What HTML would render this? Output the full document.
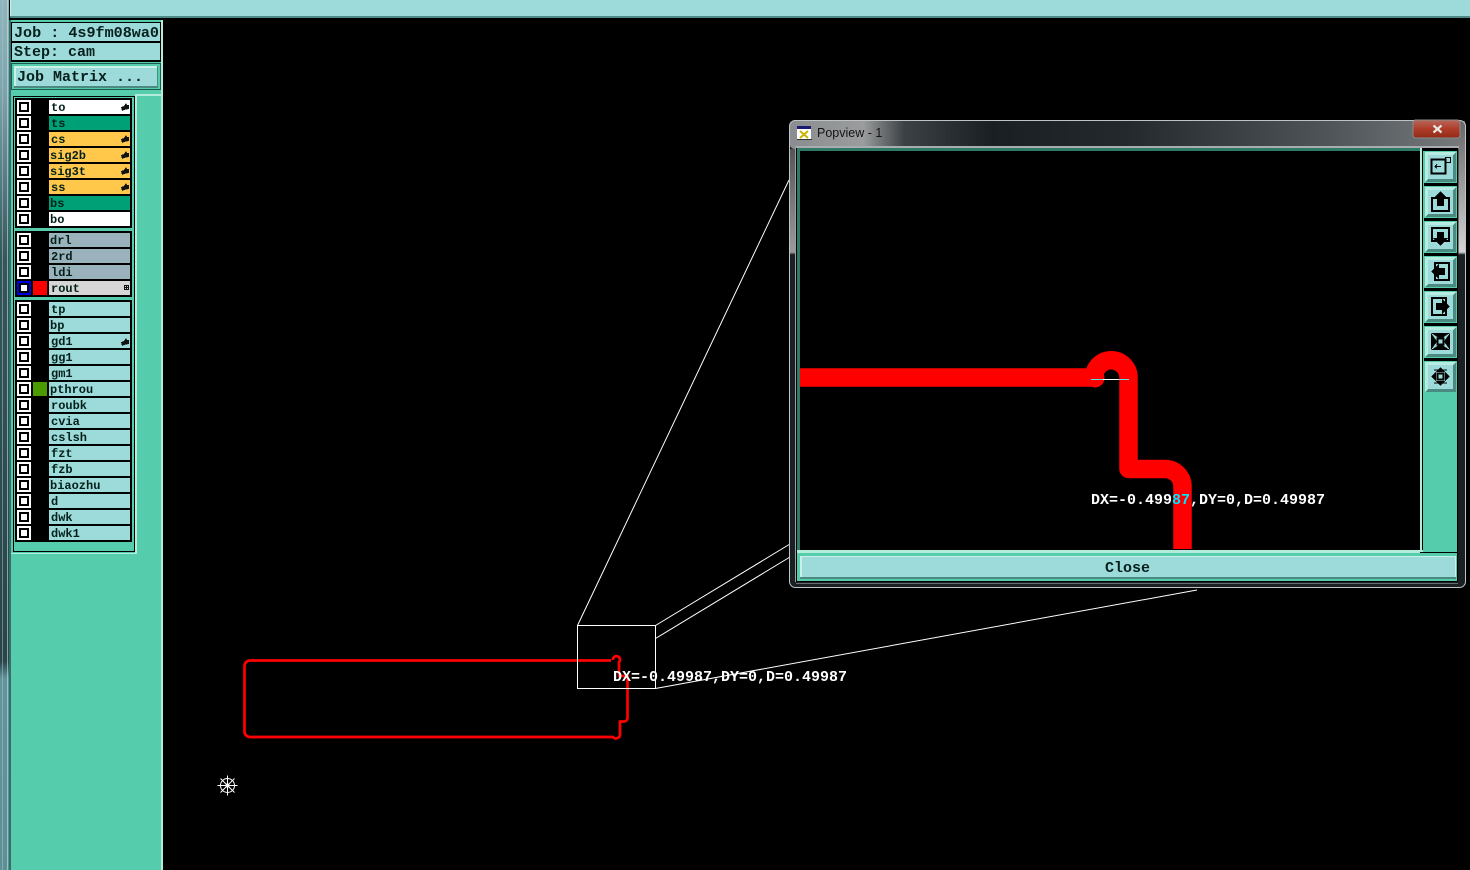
<!DOCTYPE html>
<html><head><meta charset="utf-8"><style>
html,body{margin:0;padding:0;background:#000;width:1470px;height:870px;overflow:hidden}
svg{display:block}
.l{font:bold 12px "Liberation Mono",monospace;fill:#03201a}
.h{font:bold 15px "Liberation Mono",monospace;fill:#06201c}
.m{font:bold 15px "Liberation Mono",monospace;fill:#fff}
</style></head><body>
<svg width="1470" height="870" viewBox="0 0 1470 870" xmlns="http://www.w3.org/2000/svg" shape-rendering="crispEdges">
<defs>
<linearGradient id="lf" x1="0" y1="0" x2="0" y2="1"><stop offset="0" stop-color="#8fb4bc"/><stop offset=".1" stop-color="#7fa6ae"/><stop offset=".3" stop-color="#33565a"/><stop offset=".76" stop-color="#2a4448"/><stop offset=".78" stop-color="#62949c"/><stop offset="1" stop-color="#5d8f96"/></linearGradient>
<linearGradient id="tb" x1="0" y1="0" x2="1" y2="0"><stop offset="0" stop-color="#8a8d8f"/><stop offset=".11" stop-color="#9a9c9d"/><stop offset=".17" stop-color="#3c4145"/><stop offset=".3" stop-color="#1a1f23"/><stop offset=".5" stop-color="#24292d"/><stop offset=".8" stop-color="#50555a"/><stop offset="1" stop-color="#777b7d"/></linearGradient>
<linearGradient id="fr" x1="0" y1="0" x2="0" y2="1"><stop offset="0" stop-color="#666"/><stop offset=".285" stop-color="#d4d4d4"/><stop offset=".291" stop-color="#1a1f24"/><stop offset="1" stop-color="#1a1f24"/></linearGradient>
<linearGradient id="frl" x1="0" y1="0" x2="0" y2="1"><stop offset="0" stop-color="#555"/><stop offset=".24" stop-color="#9a9a9a"/><stop offset=".246" stop-color="#1a1f24"/><stop offset="1" stop-color="#1a1f24"/></linearGradient>
<linearGradient id="xb" x1="0" y1="0" x2="0" y2="1"><stop offset="0" stop-color="#b8685c"/><stop offset=".5" stop-color="#b03c28"/><stop offset="1" stop-color="#8f2c18"/></linearGradient>
<g id="cb"><rect width="14" height="14" fill="#fff"/><rect x="2" y="2" width="10" height="10" fill="#000"/><rect x="4" y="4" width="6" height="6" fill="#fff"/></g>
<path id="hd" d="M0,4 L3,3 L5,0 L6,2 L8,2 L8,6 L3,7 L1,8 Z" fill="#111"/>
<g id="btn"><rect width="33" height="32" fill="#55cdac"/><path d="M1,1H32L29,4H4V28L1,31Z" fill="#b8ece0"/><path d="M32,1V31H1L4,28H29V4Z" fill="#4a8a80"/><rect x="4" y="4" width="25" height="24" fill="#9ddada"/></g>
</defs>

<rect width="1470" height="870" fill="#000"/>
<!-- left window edge -->
<rect x="0" y="0" width="9" height="870" fill="url(#lf)"/>
<rect x="2" y="0" width="1" height="870" fill="#a8c8cc" opacity=".5"/>
<rect x="7" y="0" width="1" height="870" fill="#c8e0e0" opacity=".6"/>
<!-- top bar -->
<rect x="10" y="0" width="1460" height="16" fill="#9ddada"/>
<rect x="10" y="0" width="1" height="18" fill="#c8f2e8"/>
<rect x="10" y="16" width="1460" height="2" fill="#4d8a88"/>

<!-- left panel -->
<rect x="9" y="20" width="154" height="850" fill="#55cdac"/>
<rect x="9" y="20" width="2" height="850" fill="#32706a"/>
<rect x="161" y="20" width="2" height="850" fill="#b4ecdc"/>
<rect x="11" y="22" width="150" height="40" fill="#000"/>
<rect x="12" y="23" width="148" height="18" fill="#9ddada"/>
<rect x="12" y="43" width="148" height="17" fill="#9ddada"/>
<text class="h" x="14" y="37" textLength="145" lengthAdjust="spacingAndGlyphs">Job : 4s9fm08wa0</text>
<text class="h" x="14" y="56">Step: cam</text>
<rect x="11" y="63" width="150" height="27" fill="#1c5a50"/>
<rect x="12" y="64" width="148" height="25" fill="#55cdac"/>
<rect x="14" y="66" width="144" height="22" fill="#4a8a80"/>
<rect x="14" y="66" width="143" height="20" fill="#c8f2e8"/>
<rect x="16" y="68" width="141" height="18" fill="#9ddada"/>
<text class="h" x="17" y="81">Job Matrix ...</text>

<!-- layer list frame -->
<rect x="136" y="94" width="25" height="459" fill="#55cdac"/>
<rect x="13" y="96" width="122" height="456" fill="#000"/>
<rect x="14" y="97" width="120" height="454" fill="#55cdac"/>
<rect x="135" y="94" width="2" height="460" fill="#b4ecdc"/>
<rect x="11" y="553" width="126" height="1" fill="#b4ecdc"/>
<rect x="136" y="94" width="25" height="2" fill="#b4ecdc"/>

<rect x="15" y="98" width="117" height="130" fill="#000"/>
<rect x="15" y="231" width="117" height="66" fill="#000"/>
<rect x="15" y="300" width="117" height="242" fill="#000"/>

<!-- group 1 -->
<use href="#cb" x="17" y="100"/><rect x="49" y="100" width="81" height="14" fill="#fff"/><text class="l" x="51" y="111">to</text><use href="#hd" x="121" y="103"/>
<use href="#cb" x="17" y="116"/><rect x="49" y="116" width="81" height="14" fill="#00a077"/><text class="l" x="51" y="127">ts</text>
<use href="#cb" x="17" y="132"/><rect x="49" y="132" width="81" height="14" fill="#ffc84b"/><text class="l" x="51" y="143">cs</text><use href="#hd" x="121" y="135"/>
<use href="#cb" x="17" y="148"/><rect x="49" y="148" width="81" height="14" fill="#ffc84b"/><text class="l" x="50" y="159">sig2b</text><use href="#hd" x="121" y="151"/>
<use href="#cb" x="17" y="164"/><rect x="49" y="164" width="81" height="14" fill="#ffc84b"/><text class="l" x="50" y="175">sig3t</text><use href="#hd" x="121" y="167"/>
<use href="#cb" x="17" y="180"/><rect x="49" y="180" width="81" height="14" fill="#ffc84b"/><text class="l" x="51" y="191">ss</text><use href="#hd" x="121" y="183"/>
<use href="#cb" x="17" y="196"/><rect x="49" y="196" width="81" height="14" fill="#00a077"/><text class="l" x="50" y="207">bs</text>
<use href="#cb" x="17" y="212"/><rect x="49" y="212" width="81" height="14" fill="#fff"/><text class="l" x="50" y="223">bo</text>

<!-- group 2 -->
<use href="#cb" x="17" y="233"/><rect x="49" y="233" width="81" height="14" fill="#9ab2bc"/><text class="l" x="50" y="244">drl</text>
<use href="#cb" x="17" y="249"/><rect x="49" y="249" width="81" height="14" fill="#9ab2bc"/><text class="l" x="51" y="260">2rd</text>
<use href="#cb" x="17" y="265"/><rect x="49" y="265" width="81" height="14" fill="#9ab2bc"/><text class="l" x="51" y="276">ldi</text>
<rect x="17" y="281" width="14" height="14" fill="#0000e0"/><rect x="19" y="283" width="10" height="10" fill="#000"/><rect x="21" y="285" width="6" height="6" fill="#fff"/>
<rect x="33" y="281" width="14" height="14" fill="#ff0000"/>
<rect x="49" y="281" width="81" height="14" fill="#d6d6d6"/><text class="l" x="51" y="292">rout</text>
<rect x="124.500" y="285.500" width="4" height="4" fill="none" stroke="#111" stroke-width="1"/><rect x="126" y="285" width="1" height="5" fill="#111"/><rect x="124" y="287" width="5" height="1" fill="#111"/>

<!-- group 3 -->
<use href="#cb" x="17" y="302"/><rect x="49" y="302" width="81" height="14" fill="#9ddada"/><text class="l" x="51" y="313">tp</text>
<use href="#cb" x="17" y="318"/><rect x="49" y="318" width="81" height="14" fill="#9ddada"/><text class="l" x="50" y="329">bp</text>
<use href="#cb" x="17" y="334"/><rect x="49" y="334" width="81" height="14" fill="#9ddada"/><text class="l" x="51" y="345">gd1</text><use href="#hd" x="121" y="338"/>
<use href="#cb" x="17" y="350"/><rect x="49" y="350" width="81" height="14" fill="#9ddada"/><text class="l" x="51" y="361">gg1</text>
<use href="#cb" x="17" y="366"/><rect x="49" y="366" width="81" height="14" fill="#9ddada"/><text class="l" x="51" y="377">gm1</text>
<use href="#cb" x="17" y="382"/><rect x="33" y="382" width="14" height="14" fill="#4a9a00"/><rect x="49" y="382" width="81" height="14" fill="#9ddada"/><text class="l" x="50" y="393">pthrou</text>
<use href="#cb" x="17" y="398"/><rect x="49" y="398" width="81" height="14" fill="#9ddada"/><text class="l" x="51" y="409">roubk</text>
<use href="#cb" x="17" y="414"/><rect x="49" y="414" width="81" height="14" fill="#9ddada"/><text class="l" x="51" y="425">cvia</text>
<use href="#cb" x="17" y="430"/><rect x="49" y="430" width="81" height="14" fill="#9ddada"/><text class="l" x="51" y="441">cslsh</text>
<use href="#cb" x="17" y="446"/><rect x="49" y="446" width="81" height="14" fill="#9ddada"/><text class="l" x="51" y="457">fzt</text>
<use href="#cb" x="17" y="462"/><rect x="49" y="462" width="81" height="14" fill="#9ddada"/><text class="l" x="51" y="473">fzb</text>
<use href="#cb" x="17" y="478"/><rect x="49" y="478" width="81" height="14" fill="#9ddada"/><text class="l" x="50" y="489">biaozhu</text>
<use href="#cb" x="17" y="494"/><rect x="49" y="494" width="81" height="14" fill="#9ddada"/><text class="l" x="51" y="505">d</text>
<use href="#cb" x="17" y="510"/><rect x="49" y="510" width="81" height="14" fill="#9ddada"/><text class="l" x="51" y="521">dwk</text>
<use href="#cb" x="17" y="526"/><rect x="49" y="526" width="81" height="14" fill="#9ddada"/><text class="l" x="51" y="537">dwk1</text>

<!-- main canvas -->
<g shape-rendering="geometricPrecision">
<path d="M250,660.500H611 M613,660 a3.500,3.500 0 1 1 6,2 V676 H627.500 V718 a4,4 0 0 1 -3,3.500 H620 V734 a4,4 0 0 1 -7,3 H250 a5.500,5.500 0 0 1 -5.500,-5.500 V666 a5.500,5.500 0 0 1 5.500,-5.500" fill="none" stroke="#ff0000" stroke-width="2.700"/>
<rect x="577.500" y="625.500" width="78" height="63" fill="none" stroke="#fff" stroke-width="1"/>
<path d="M577.500,625.500L789,180 M655.500,625.500L790,544 M655.500,638.500L790,557 M655.500,688.500L1197,590" fill="none" stroke="#fff" stroke-width="1"/>
<g fill="none" stroke="#fff" stroke-width="1"><circle cx="227.500" cy="785.500" r="7"/><circle cx="227.500" cy="785.500" r="1.500"/><path d="M217.500,785.500H237.500M227.500,775.500V795.500M220.500,778.500L234.500,792.500M234.500,778.500L220.500,792.500"/></g>
</g>
<text class="m" x="613" y="681" textLength="234">DX=-0.49987,DY=0,D=0.49987</text>

<!-- popup window -->
<rect x="789" y="120" width="677" height="468" rx="6" fill="#1a1f24"/>
<rect x="789" y="120" width="677" height="29" rx="6" fill="url(#tb)"/>
<rect x="790" y="149" width="6" height="430" fill="url(#frl)"/>
<rect x="1458.500" y="121" width="6.500" height="460" fill="url(#fr)"/>
<rect x="789.500" y="120.500" width="676" height="467" rx="6" fill="none" stroke="#bfc3c5" stroke-width="1" shape-rendering="geometricPrecision"/>
<rect x="795" y="146" width="664" height="2" fill="#a8acae"/>
<rect x="795" y="146" width="1" height="436" fill="#9aa0a2"/>
<rect x="796" y="583" width="662" height="1" fill="#9aa0a2" opacity=".6"/>
<!-- title -->
<rect x="797" y="126" width="14" height="14" fill="#fff"/>
<rect x="797" y="126" width="14" height="3" fill="#1a1a70"/>
<rect x="797" y="139" width="15" height="1" fill="#333"/>
<path d="M800,131L808,138M808,131L800,138" stroke="#c8b400" stroke-width="2" shape-rendering="geometricPrecision"/>
<text x="817" y="137" font-family="Liberation Sans, sans-serif" font-size="12.500" fill="#141414" shape-rendering="geometricPrecision">Popview - 1</text>
<rect x="1413" y="120" width="47" height="18" rx="3" fill="url(#xb)" stroke="#8a8a8a" stroke-width="1"/>
<path d="M1433.500,125.500L1441.500,132.500M1441.500,125.500L1433.500,132.500" stroke="#e8e8e8" stroke-width="2.200" shape-rendering="geometricPrecision"/>

<!-- client area -->
<rect x="796" y="148" width="662" height="434" fill="#000"/>
<rect x="797" y="148" width="623" height="3" fill="#2f7a66"/>
<rect x="797" y="148" width="3" height="402" fill="#2f7a66"/>
<rect x="800" y="151" width="620" height="398" fill="#000"/>

<!-- close button -->
<rect x="797" y="550" width="660" height="3" fill="#b4ecdc"/>
<rect x="797" y="553" width="660" height="28" fill="#55cdac"/>
<rect x="800" y="556" width="656" height="23" fill="#4a8a80"/>
<rect x="800" y="556" width="656" height="21" fill="#c8f2e8"/>
<rect x="802" y="557" width="653" height="20" fill="#9ddada"/>
<text class="h" x="1105" y="572">Close</text>

<!-- toolbar -->
<rect x="1420" y="148" width="2" height="405" fill="#b4ecdc"/>
<rect x="1422" y="148" width="36" height="232" fill="#000"/>
<rect x="1423" y="380" width="34" height="172" fill="#55cdac"/>
<rect x="1457" y="380" width="1" height="172" fill="#000"/>
<rect x="1420" y="552" width="38" height="1" fill="#000"/>
<rect x="1423" y="151" width="1" height="229" fill="#55cdac"/>

<use href="#btn" x="1424" y="151"/>
<use href="#btn" x="1424" y="186"/>
<use href="#btn" x="1424" y="221"/>
<use href="#btn" x="1424" y="256"/>
<use href="#btn" x="1424" y="291"/>
<use href="#btn" x="1424" y="326"/>
<use href="#btn" x="1424" y="361"/>

<!-- icon 1 -->
<g fill="none" stroke="#000"><rect x="1431.500" y="159.500" width="14" height="14" stroke-width="2"/><rect x="1445.500" y="157.500" width="5" height="5" stroke-width="1"/><path d="M1441,166.500H1435M1437,164.500L1435,166.500L1437,168.500" stroke-width="1"/></g>
<!-- icon 2 up -->
<g fill="none" stroke="#000" stroke-width="2"><rect x="1432" y="198" width="17" height="13"/></g><path d="M1440.500,191L1448,199H1444V206H1437V199H1433Z" fill="#000"/>
<!-- icon 3 down -->
<g fill="none" stroke="#000" stroke-width="2"><rect x="1432" y="228" width="17" height="13"/></g><path d="M1440.500,246L1448,238H1444V232H1437V238H1433Z" fill="#000"/>
<!-- icon 4 left -->
<g fill="none" stroke="#000" stroke-width="2"><rect x="1435" y="263" width="14" height="17"/></g><path d="M1431,271.500L1439,264V268H1445V275H1439V279Z" fill="#000"/>
<!-- icon 5 right -->
<g fill="none" stroke="#000" stroke-width="2"><rect x="1432" y="298" width="14" height="17"/></g><path d="M1450,306.500L1442,299V303H1436V310H1442V314Z" fill="#000"/>
<!-- icon 6 -->
<path d="M1431,333H1450L1440.500,339ZM1431,350H1450L1440.500,344ZM1431,333V350L1437,341.500ZM1450,333V350L1444,341.500Z" fill="#000"/><rect x="1437.500" y="338.500" width="6" height="6" fill="#9ddada" stroke="#000" stroke-width="2"/>
<!-- icon 7 -->
<path d="M1440.500,367L1445,372H1436ZM1440.500,386L1445,381H1436ZM1431,376.500L1436,372V381ZM1450,376.500L1445,372V381Z" fill="#000"/><rect x="1437.500" y="373.500" width="6" height="6" fill="#9ddada" stroke="#000" stroke-width="2"/>
<path d="M1434,370L1438,370M1443,370L1447,370M1434,383L1438,383M1443,383L1447,383" stroke="#000" stroke-width="1"/>

<!-- route -->
<g shape-rendering="geometricPrecision">
<path d="M800,377.500H1094 A17.250,17.250 0 0 1 1128.500,377.500 V469 H1165 A17.500,17.500 0 0 1 1182.500,486.500 V549" fill="none" stroke="#ff0000" stroke-width="18.500" stroke-linejoin="round"/>
<circle cx="1095" cy="378" r="9.500" fill="#ff0000"/>
</g>
<rect x="1091" y="379" width="38" height="1" fill="#fff"/>
<rect x="1091" y="379" width="12" height="1" fill="#5fe0e0"/>
<rect x="1119" y="379" width="10" height="1" fill="#5fe0e0"/>
<text class="m" x="1091" y="504" textLength="234">DX=-0.499<tspan fill="#00e5ff">87</tspan>,DY=0,D=0.49987</text>
</svg>
</body></html>
